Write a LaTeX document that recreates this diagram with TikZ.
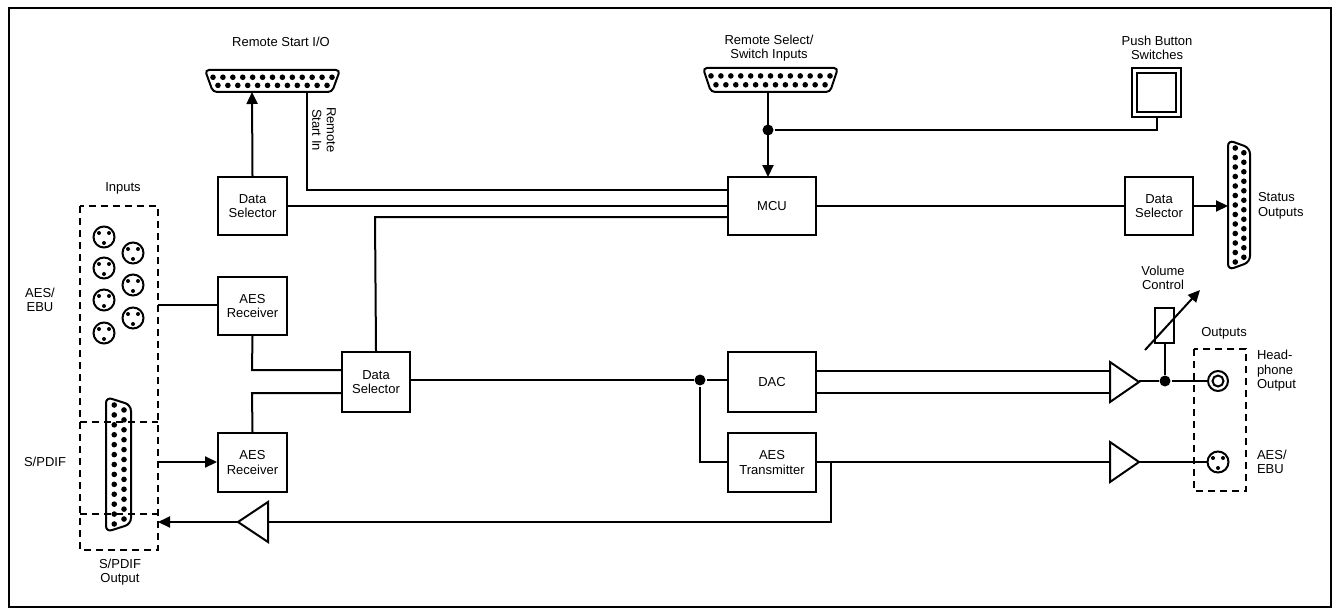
\documentclass[tikz,border=0pt]{standalone}
\usepackage{fontspec}
\setmainfont{Liberation Sans}
\usetikzlibrary{arrows.meta}
\begin{document}
\begin{tikzpicture}[x=1pt,y=-1pt,line width=2pt,
  box/.style={draw,minimum width=0,inner sep=0},
  lbl/.style={font=\fontsize{13}{14.5}\selectfont,align=center,inner sep=0},
  lbll/.style={font=\fontsize{13}{14.5}\selectfont,align=left,inner sep=0,anchor=west},
  dbox/.style={draw,dash pattern=on 7pt off 5pt},
  arr/.style={-{Triangle[length=12pt,width=11pt]}},
  jdot/.style={circle,fill,inner sep=0,minimum size=11pt}]
\useasboundingbox (0,0) rectangle (1340,615);
\draw[line width=2pt] (9,8) rectangle (1331,607);
\newcommand{\hdb}[4]{% x0 x1 y0 y1
  \draw[rounded corners=4pt] (#1,#3)--(#2,#3)--({#2-8},#4)--({#1+8},#4)--cycle;
  \foreach \i in {0,...,12}{\fill ({#1+8+\i*(#2-#1-16)/12},{#3+(#4-#3)*0.33}) circle (2.8pt);}
  \foreach \i in {0,...,11}{\fill ({#1+8+(\i+0.5)*(#2-#1-16)/12},{#3+(#4-#3)*0.7}) circle (2.8pt);}}
\newcommand{\vdb}[4]{% x0 x1 y0 y1
  \draw[rounded corners=6pt] (#1,#3)--(#2,{#3+8})--(#2,{#4-8})--(#1,#4)--cycle;
  \foreach \i in {0,...,12}{\fill ({#1+(#2-#1)*0.33},{#3+8+\i*(#4-#3-16)/12}) circle (2.8pt);}
  \foreach \i in {0,...,11}{\fill ({#1+(#2-#1)*0.72},{#3+8+(\i+0.5)*(#4-#3-16)/12}) circle (2.8pt);}}
\newcommand{\xlr}[2]{\draw (#1,#2) circle (10.5pt);
  \fill ({#1-5},{#2-4}) circle (2pt); \fill ({#1+5},{#2-4}) circle (2pt); \fill (#1,{#2+6}) circle (2pt);}
% top connectors
\node[lbl] (rsio) at (281,42) {Remote Start I/O};
\hdb{205}{340}{70}{92}
\coordinate (rsA) at (252,92); \coordinate (rsB) at (307,92);
\node[lbl] (rss) at (769,48) {Remote Select/\\Switch Inputs};
\hdb{703}{838}{68}{92}
\coordinate (rsel) at (768,92);
\node[lbl] (pbl) at (1157,48) {Push Button\\Switches};
\draw (1132,68) rectangle (1181,117); \draw (1137,73) rectangle (1176,112);
\coordinate (pb) at (1157,117);
% boxes
\node[box,minimum width=69pt,minimum height=58pt,lbl,draw] (ds1) at (252.5,206) {Data\\Selector};
\node[box,minimum width=88pt,minimum height=58pt,lbl,draw] (mcu) at (772,206) {MCU};
\node[box,minimum width=68pt,minimum height=58pt,lbl,draw] (ds3) at (1159,206) {Data\\Selector};
\node[box,minimum width=69pt,minimum height=58pt,lbl,draw] (ar1) at (252.5,306) {AES\\Receiver};
\node[box,minimum width=69pt,minimum height=59pt,lbl,draw] (ar2) at (252.5,462.5) {AES\\Receiver};
\node[box,minimum width=68pt,minimum height=60pt,lbl,draw] (ds2) at (376,382) {Data\\Selector};
\node[box,minimum width=88pt,minimum height=60pt,lbl,draw] (dac) at (772,382) {DAC};
\node[box,minimum width=88pt,minimum height=59pt,lbl,draw] (atx) at (772,462.5) {AES\\Transmitter};
% top wiring
\draw[arr] (ds1.north) -- (rsA);
\draw (rsB) -- (307,190) -- (mcu.west |- 0,190);
\node[lbl,rotate=-90] (rsin) at (324,130) {Remote\\Start In};
\draw (ds1.east) -- (mcu.west |- ds1.east);
\draw (ds2.north) -- (375,217) -- (mcu.west |- 0,217);
\node[jdot] (j1) at (768,130) {};
\draw[arr] (rsel) -- (768,177);
\draw (j1) -- (1157,130) -- (pb);
\draw (mcu.east) -- (ds3.west);
\vdb{1228}{1250}{140}{270}
\coordinate (st) at (1228,206);
\draw[arr] (ds3.east) -- (st);
\node[lbll] (sto) at (1257,206) {Status\\Outputs};
% inputs
\node[lbl] (inl) at (123,188) {Inputs};
\draw[dbox] (80,206) rectangle (158,550);
\draw[dbox] (80,422) -- (158,422); \draw[dbox] (80,514) -- (158,514);
\xlr{104}{237}\xlr{104}{268}\xlr{104}{300}\xlr{104}{333}
\xlr{133}{253}\xlr{133}{285}\xlr{133}{318}
\vdb{106}{131}{397}{532}
\node[lbl] (aesl) at (40,300) {AES/\\EBU};
\node[lbl] (spl) at (45,462) {S/PDIF};
\node[lbl] (spo) at (120,572) {S/PDIF\\Output};
\coordinate (inA) at (158,305); \coordinate (inB) at (158,462); \coordinate (outS) at (158,522);
\draw (inA) -- (ar1.west |- inA);
\draw[arr] (inB) -- (ar2.west |- inB);
\draw (ar1.south) -- (252,370) -- (ds2.west |- 0,370);
\draw (ar2.north) -- (252,393) -- (ds2.west |- 0,393);
% bottom feedback
\draw (atx.east |- 0,462) -- (831,462) -- (831,522) -- (268,522);
\draw (268,502) -- (268,542) -- (238,522) -- cycle;
\draw[arr] (238,522) -- (outS);
% DAC path
\node[jdot] (j2) at (700,380) {};
\draw (ds2.east |- 0,380) -- (j2) -- (dac.west |- 0,380);
\draw (j2) -- (700,462) -- (atx.west |- 0,462);
\draw (dac.east |- 0,371) -- (1110,371); \draw (dac.east |- 0,393) -- (1110,393);
\draw (1110,362) -- (1110,402) -- (1139,382) -- cycle;
\node[jdot] (j3) at (1165,381) {};
\draw (1139,381) -- (j3) -- (1208,381);
\draw (1218,381) circle (10pt); \draw (1218,381) circle (5.5pt);
\draw (1155,308) rectangle (1174,343);
\draw (j3) -- (1165,343);
\draw[arr] (1145,350) -- (1200,290);
\node[lbl] (vcl) at (1163,278) {Volume\\Control};
\node[lbl] (outl) at (1224,333) {Outputs};
\draw[dbox] (1194,349) rectangle (1246,491);
\node[lbll] (hpl) at (1256,371) {Head-\\phone\\Output};
\draw (atx.east |- 0,462) -- (1110,462);
\draw (1110,442) -- (1110,482) -- (1139,462) -- cycle;
\draw (1139,462) -- (1207,462);
\xlr{1218}{462}
\node[lbll] (aes2) at (1256,462) {AES/\\EBU};
\end{tikzpicture}
\end{document}
